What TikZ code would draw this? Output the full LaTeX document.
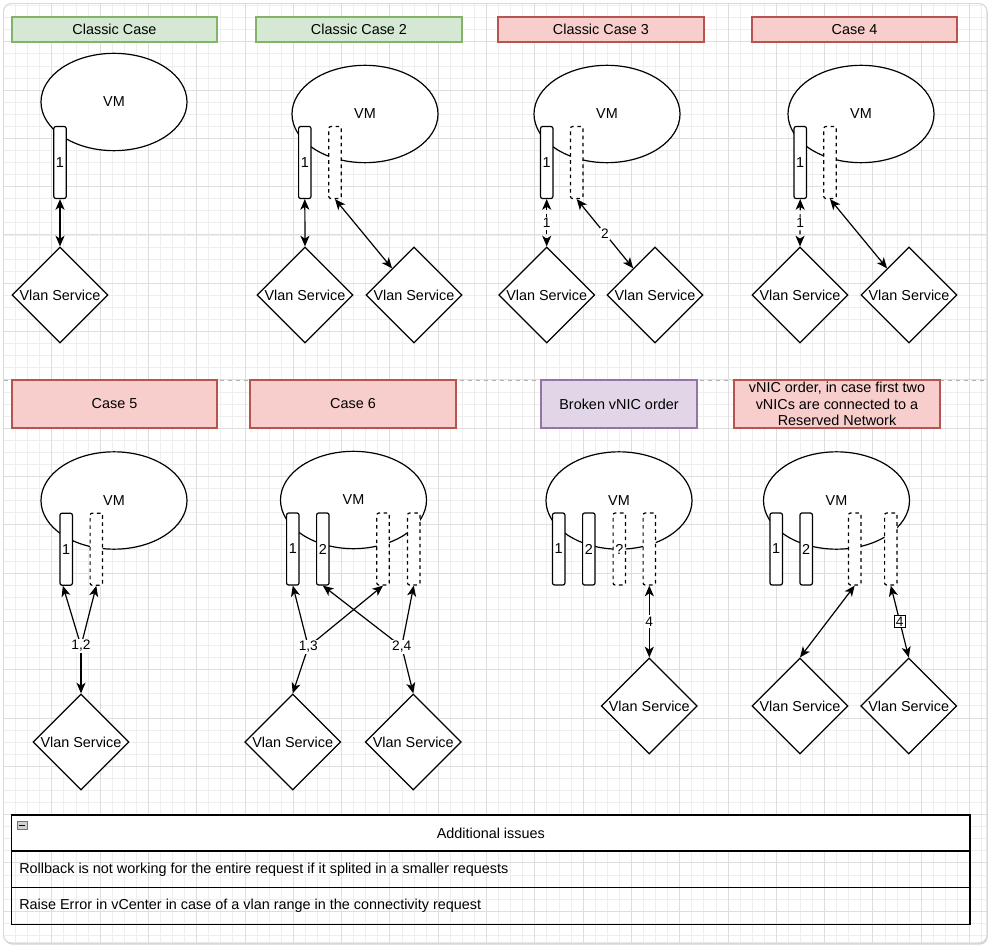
\documentclass[tikz,border=0pt]{standalone}
\usepackage{fontspec}
\setmainfont{Liberation Sans}
\usetikzlibrary{shapes.geometric,arrows.meta,shadows}
\definecolor{gfill}{HTML}{D5E8D4}
\definecolor{gdraw}{HTML}{82B366}
\definecolor{rfill}{HTML}{F8CECC}
\definecolor{rdraw}{HTML}{B85450}
\definecolor{pfill}{HTML}{E1D5E7}
\definecolor{pdraw}{HTML}{9673A6}
\definecolor{gminorc}{HTML}{EEEEEE}
\definecolor{gmajorc}{HTML}{DEDEDE}
\begin{document}
\begin{tikzpicture}[x=0.75pt,y=-0.75pt,
  font=\fontsize{10.8}{13}\selectfont,
  >={Stealth[length=8pt,width=6.8pt,inset=2.2pt]},
  vm/.style={ellipse,draw,fill=white,line width=0.9pt,minimum width=109.5pt,minimum height=73pt,inner sep=0pt},
  nic/.style={draw,fill=white,rounded corners=1.5pt,line width=0.9pt,minimum width=9.3pt,minimum height=54pt,inner sep=0pt},
  nicd/.style={nic,dash pattern=on 2.7pt off 2.7pt},
  vlan/.style={diamond,aspect=1,draw,fill=white,line width=0.9pt,minimum width=72pt,minimum height=72pt,inner sep=0pt},
  link/.style={line width=0.9pt},
  dlink/.style={line width=0.9pt,dash pattern=on 3pt off 3pt},
  elabel/.style={fill=white,inner sep=1pt,font=\fontsize{10.3}{12}\selectfont},
  tbox/.style={draw,line width=0.9pt,inner sep=0pt,align=center},
  tgreen/.style={tbox,fill=gfill,draw=gdraw,minimum height=18.75pt},
  tred/.style={tbox,fill=rfill,draw=rdraw,minimum height=18.75pt},
  tred2/.style={tbox,fill=rfill,draw=rdraw,minimum height=36pt},
  tpurple/.style={tbox,fill=pfill,draw=pdraw,minimum height=36pt},
  gminor/.style={draw=gminorc,line width=0.5pt},
  gmajor/.style={draw=gmajorc,line width=0.6pt},
  row/.style={draw,line width=0.9pt,minimum width=718.7pt,inner sep=0pt}
]
\useasboundingbox (0,0) rectangle (994,948);
% frame
\path[fill=white,draw=black!15,line width=0.6pt,rounded corners=6pt,
  drop shadow={shadow xshift=0.6pt,shadow yshift=-1.2pt,opacity=0.35}]
  (3.5,3.5) rectangle (987,943);
\begin{scope}
\clip[rounded corners=6pt] (3.5,3.5) rectangle (987,943);
\foreach \k in {0,...,82} {\pgfmathsetmacro\gx{3.4+12.075*\k}\draw[gminor] (\gx,0) -- (\gx,948);}
\foreach \k in {0,...,80} {\pgfmathsetmacro\gy{-6.6+12.075*\k}\draw[gminor] (0,\gy) -- (994,\gy);}
\foreach \k in {0,...,20} {\pgfmathsetmacro\gx{3.4+48.3*\k}\draw[gmajor] (\gx,0) -- (\gx,948);}
\foreach \k in {0,...,20} {\pgfmathsetmacro\gy{-6.6+48.3*\k}\draw[gmajor] (0,\gy) -- (994,\gy);}
\end{scope}
\draw[draw=black!15,line width=0.6pt,rounded corners=6pt] (3.5,3.5) rectangle (987,943);
% separator
\draw[black!30,line width=0.6pt,dash pattern=on 3pt off 3pt] (4,380) -- (987,380);

% titles
\node[tgreen,minimum width=153.75pt] (t1) at (114.5,29.5) {Classic Case};
\node[tgreen,minimum width=154.5pt] (t2) at (359,29.5) {Classic Case 2};
\node[tred,minimum width=154.5pt] (t3) at (601,29.5) {Classic Case 3};
\node[tred,minimum width=153.75pt] (t4) at (854.5,29.5) {Case 4};
\node[tred2,minimum width=153.75pt] (t5) at (114.5,404) {Case 5};
\node[tred2,minimum width=154.5pt] (t6) at (353,404) {Case 6};
\node[tpurple,minimum width=117pt] (t7) at (619,404) {Broken vNIC order};
\node[tred2,minimum width=154.5pt,font=\fontsize{10.8}{12.6}\selectfont] (t8) at (837,404) {vNIC order, in case first two\\vNICs are connected to a\\Reserved Network};

% ---- Panel 1
\node[vm] (vm1) at (114,102) {VM};
\node[nic] (p1n1) at (60,162.5) {1};
\node[vlan] (p1d1) at (60,295) {Vlan Service};
\draw[link,<->] (p1n1.south) -- (p1d1.north);

% ---- Panel 2
\node[vm] (vm2) at (365,114) {VM};
\node[nic] (p2n1) at (304.8,162.5) {1};
\node[nicd] (p2n2) at (335,162.5) {};
\node[vlan] (p2d1) at (305,295) {Vlan Service};
\node[vlan] (p2d2) at (414,295) {Vlan Service};
\draw[link,<->] (p2n1.south) -- (p2d1.north);
\draw[link,<->] (p2n2.south) -- (p2d2);

% ---- Panel 3
\node[vm] (vm3) at (607,114) {VM};
\node[nic] (p3n1) at (546.7,162.5) {1};
\node[nicd] (p3n2) at (576.7,162.5) {};
\node[vlan] (p3d1) at (546.7,295) {Vlan Service};
\node[vlan] (p3d2) at (655,295) {Vlan Service};
\draw[dlink,<->] (p3n1.south) -- node[elabel] (p3l1) {1} (p3d1.north);
\draw[link,<->] (p3n2.south) -- node[elabel] (p3l2) {2} (p3d2);

% ---- Panel 4
\node[vm] (vm4) at (861,114) {VM};
\node[nic] (p4n1) at (800.2,162.5) {1};
\node[nicd] (p4n2) at (830,162.5) {};
\node[vlan] (p4d1) at (800,295) {Vlan Service};
\node[vlan] (p4d2) at (909,295) {Vlan Service};
\draw[dlink,<->] (p4n1.south) -- node[elabel] (p4l1) {1} (p4d1.north);
\draw[link,<->] (p4n2.south) -- (p4d2);

% ---- Panel 5
\node[vm] (vm5) at (114,500.5) {VM};
\node[nic] (p5n1) at (66.2,549.2) {1};
\node[nicd] (p5n2) at (96.3,549.2) {};
\node[vlan] (p5d1) at (81,742) {Vlan Service};
\coordinate (p5j) at (81,646);
\draw[link,->] (p5j) -- ([xshift=-2.5pt]p5n1.south);
\draw[link,->] (p5j) -- (p5n2.south);
\draw[link,->] (p5j) -- (p5d1.north);
\node[elabel] (p5l) at (p5j) {1,2};

% ---- Panel 6
\node[vm] (vm6) at (353.5,500) {VM};
\node[nic] (p6n1) at (292.8,549) {1};
\node[nic] (p6n2) at (322.8,549) {2};
\node[nicd] (p6n3) at (383,549) {};
\node[nicd] (p6n4) at (413.7,549) {};
\node[vlan] (p6d1) at (292.7,742) {Vlan Service};
\node[vlan] (p6d2) at (413.3,742) {Vlan Service};
\coordinate (p6j1) at (308.3,646.7);
\coordinate (p6j2) at (401.7,646.7);
\draw[link,->] (p6j1) -- (p6n1.south);
\draw[link,->] (p6j1) -- (p6n3.south);
\draw[link,->] (p6j1) -- (p6d1.north);
\draw[link,->] (p6j2) -- (p6n2.south);
\draw[link,->] (p6j2) -- (p6n4.south);
\draw[link,->] (p6j2) -- (p6d2.north);
\node[elabel] (p6l1) at (p6j1) {1,3};
\node[elabel] (p6l2) at (p6j2) {2,4};

% ---- Panel 7
\node[vm] (vm7) at (619,500.5) {VM};
\node[nic] (p7n1) at (558.7,549) {1};
\node[nic] (p7n2) at (588.8,549) {2};
\node[nicd] (p7n3) at (619.3,549) {?};
\node[nicd] (p7n4) at (649.3,549) {};
\node[vlan] (p7d1) at (649.3,706) {Vlan Service};
\draw[link,<->] (p7n4.south) -- node[elabel] (p7l) {4} (p7d1.north);

% ---- Panel 8
\node[vm] (vm8) at (836.5,500.5) {VM};
\node[nic] (p8n1) at (776.2,549) {1};
\node[nic] (p8n2) at (806.2,549) {2};
\node[nicd] (p8n3) at (854.7,549) {};
\node[nicd] (p8n4) at (890.8,549) {};
\node[vlan] (p8d1) at (800,706) {Vlan Service};
\node[vlan] (p8d2) at (908.7,706) {Vlan Service};
\draw[link,<->] (p8n3.south) -- (p8d1.north);
\draw[link,<->] (p8n4.south) -- node[elabel,draw,line width=0.6pt] (p8l) {4} (p8d2.north);

% ---- Additional issues table
\node[row,fill=white,minimum height=27pt] (hdr) at (490.8,833) {Additional issues};
\node[row,minimum height=27.5pt] (r1) at (490.8,869.3) {};
\node[row,minimum height=27.5pt] (r2) at (490.8,906) {};
\node[anchor=west,inner sep=0pt] (r1t) at ([xshift=6pt]r1.west) {Rollback is not working for the entire request if it splited in a smaller requests};
\node[anchor=west,inner sep=0pt] (r2t) at ([xshift=6pt]r2.west) {Raise Error in vCenter in case of a vlan range in the connectivity request};
\node[draw=black!55,fill=black!18,line width=0.4pt,minimum width=7.5pt,minimum height=6pt,inner sep=0pt] (mini) at (22,825.5) {};
\draw[line width=0.8pt] ([xshift=1.6pt]mini.west) -- ([xshift=-1.6pt]mini.east);
\end{tikzpicture}
\end{document}
